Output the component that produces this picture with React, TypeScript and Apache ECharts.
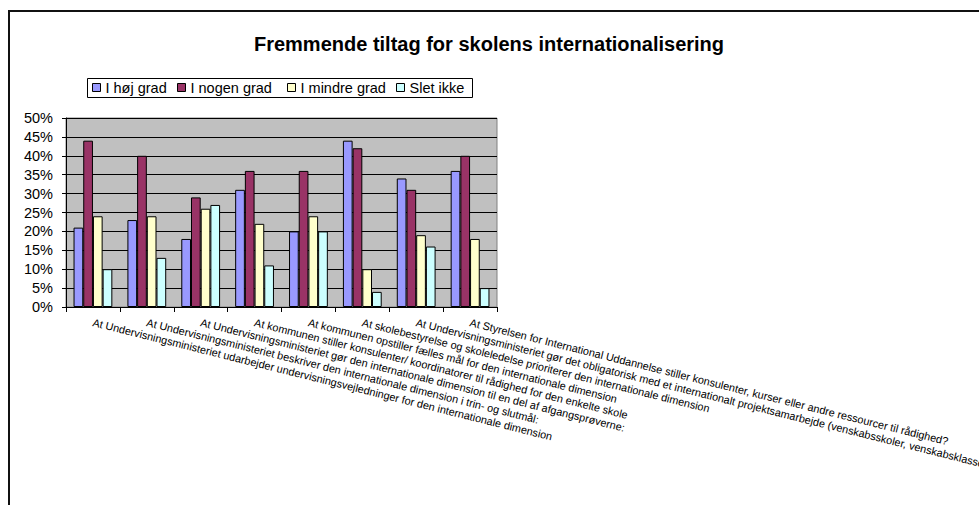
import React, { useEffect, useRef } from "react";
import * as echarts from "echarts";

const titleText = "Fremmende tiltag for skolens internationalisering";
const categories = [
  "At Undervisningsministeriet udarbejder undervisningsvejledninger for den internationale dimension",
  "At Undervisningsministeriet beskriver den internationale dimension i trin- og slutmål:",
  "At Undervisningsministeriet gør den internationale dimension til en del af afgangsprøverne:",
  "At kommunen stiller konsulenter/ koordinatorer til rådighed for den enkelte skole",
  "At kommunen opstiller fælles mål for den internationale dimension",
  "At skolebestyrelse og skoleledelse prioriterer den internationale dimension",
  "At Undervisningsministeriet gør det obligatorisk med et internationalt projektsamarbejde (venskabsskoler, venskabsklasser)",
  "At Styrelsen for International Uddannelse stiller konsulenter, kurser eller andre ressourcer til rådighed?",
];
const seriesNames = ["I høj grad", "I nogen grad", "I mindre grad", "Slet ikke"];
const hojGrad = [21, 23, 18, 31, 20, 44, 34, 36];
const nogenGrad = [44, 40, 29, 36, 36, 42, 31, 40];
const mindreGrad = [24, 24, 26, 22, 24, 10, 19, 18];
const sletIkke = [10, 13, 27, 11, 20, 4, 16, 5];
const yTicks = { min: 0, max: 50, interval: 5 };
const colors = ["#9999FF", "#993366", "#FFFFCC", "#CCFFFF"];

const FONT = "'Liberation Sans', Arial, sans-serif";
const legendLefts = [92, 177, 287, 396];

export default function App() {
  const ref = useRef<HTMLDivElement>(null);
  useEffect(() => {
    if (!ref.current) return;
    document.documentElement.style.overflow = "hidden";
    document.body.style.overflow = "hidden";
    document.body.style.margin = "0";
    const chart = echarts.init(ref.current, null, { renderer: "svg" });
    const values = [hojGrad, nogenGrad, mindreGrad, sletIkke];
    chart.setOption({
      animation: false,
      backgroundColor: "#ffffff",
      textStyle: { fontFamily: FONT },
      title: {
        text: titleText,
        left: 484,
        textAlign: "center",
        top: 29,
        textStyle: { fontFamily: FONT, fontSize: 20, fontWeight: "bold", color: "#000" },
      },
      legend: seriesNames.map((name, i) => ({
        data: [name],
        left: legendLefts[i],
        top: 80,
        orient: "horizontal",
        itemWidth: 8,
        itemHeight: 8,
        padding: 0,
        icon: "rect",
        itemStyle: { borderColor: "#000", borderWidth: 1 },
        textStyle: { fontFamily: FONT, fontSize: 14.5, color: "#000" },
        selectedMode: false,
      })),
      graphic: [
        {
          type: "line",
          shape: { x1: 9, y1: 11, x2: 979, y2: 11 },
          style: { stroke: "#111", lineWidth: 2 },
          silent: true,
        },
        {
          type: "line",
          shape: { x1: 9, y1: 10, x2: 9, y2: 505 },
          style: { stroke: "#111", lineWidth: 2 },
          silent: true,
        },
        {
          type: "rect",
          shape: { x: 87.5, y: 78.5, width: 385, height: 19 },
          style: { fill: "none", stroke: "#000", lineWidth: 1 },
          silent: true,
        },
      ],
      grid: {
        left: 66,
        right: 482,
        top: 118,
        bottom: 198,
        containLabel: false,
        outerBoundsMode: "none",
        show: true,
        backgroundColor: "#C0C0C0",
        borderColor: "#808080",
        borderWidth: 1,
      },
      xAxis: {
        type: "category",
        data: categories,
        axisLine: { show: true, lineStyle: { color: "#000", width: 1 } },
        axisTick: { show: true, length: 5, lineStyle: { color: "#000" } },
        axisLabel: {
          interval: 0,
          rotate: -14,
          margin: 15,
          fontSize: 10.9,
          fontFamily: FONT,
          color: "#000",
          hideOverlap: false,
        },
        splitLine: { show: false },
      },
      yAxis: {
        type: "value",
        min: yTicks.min,
        max: yTicks.max,
        interval: yTicks.interval,
        axisLine: { show: true, lineStyle: { color: "#000", width: 1 } },
        axisTick: { show: true, length: 4, lineStyle: { color: "#000" } },
        axisLabel: {
          formatter: "{value}%",
          fontSize: 14.5,
          fontFamily: FONT,
          color: "#000",
          margin: 13,
        },
        splitLine: { show: true, lineStyle: { color: "#000", width: 1 } },
      },
      series: seriesNames.map((name, i) => ({
        name,
        type: "bar",
        data: values[i],
        barGap: "0%",
        barCategoryGap: "28%",
        itemStyle: { color: colors[i], borderColor: "#000", borderWidth: 1 },
      })),
    });
    return () => chart.dispose();
  }, []);
  return (
    <div
      ref={ref}
      style={{ position: "absolute", left: 0, top: 0, width: 979, height: 505, overflow: "hidden" }}
    />
  );
}
